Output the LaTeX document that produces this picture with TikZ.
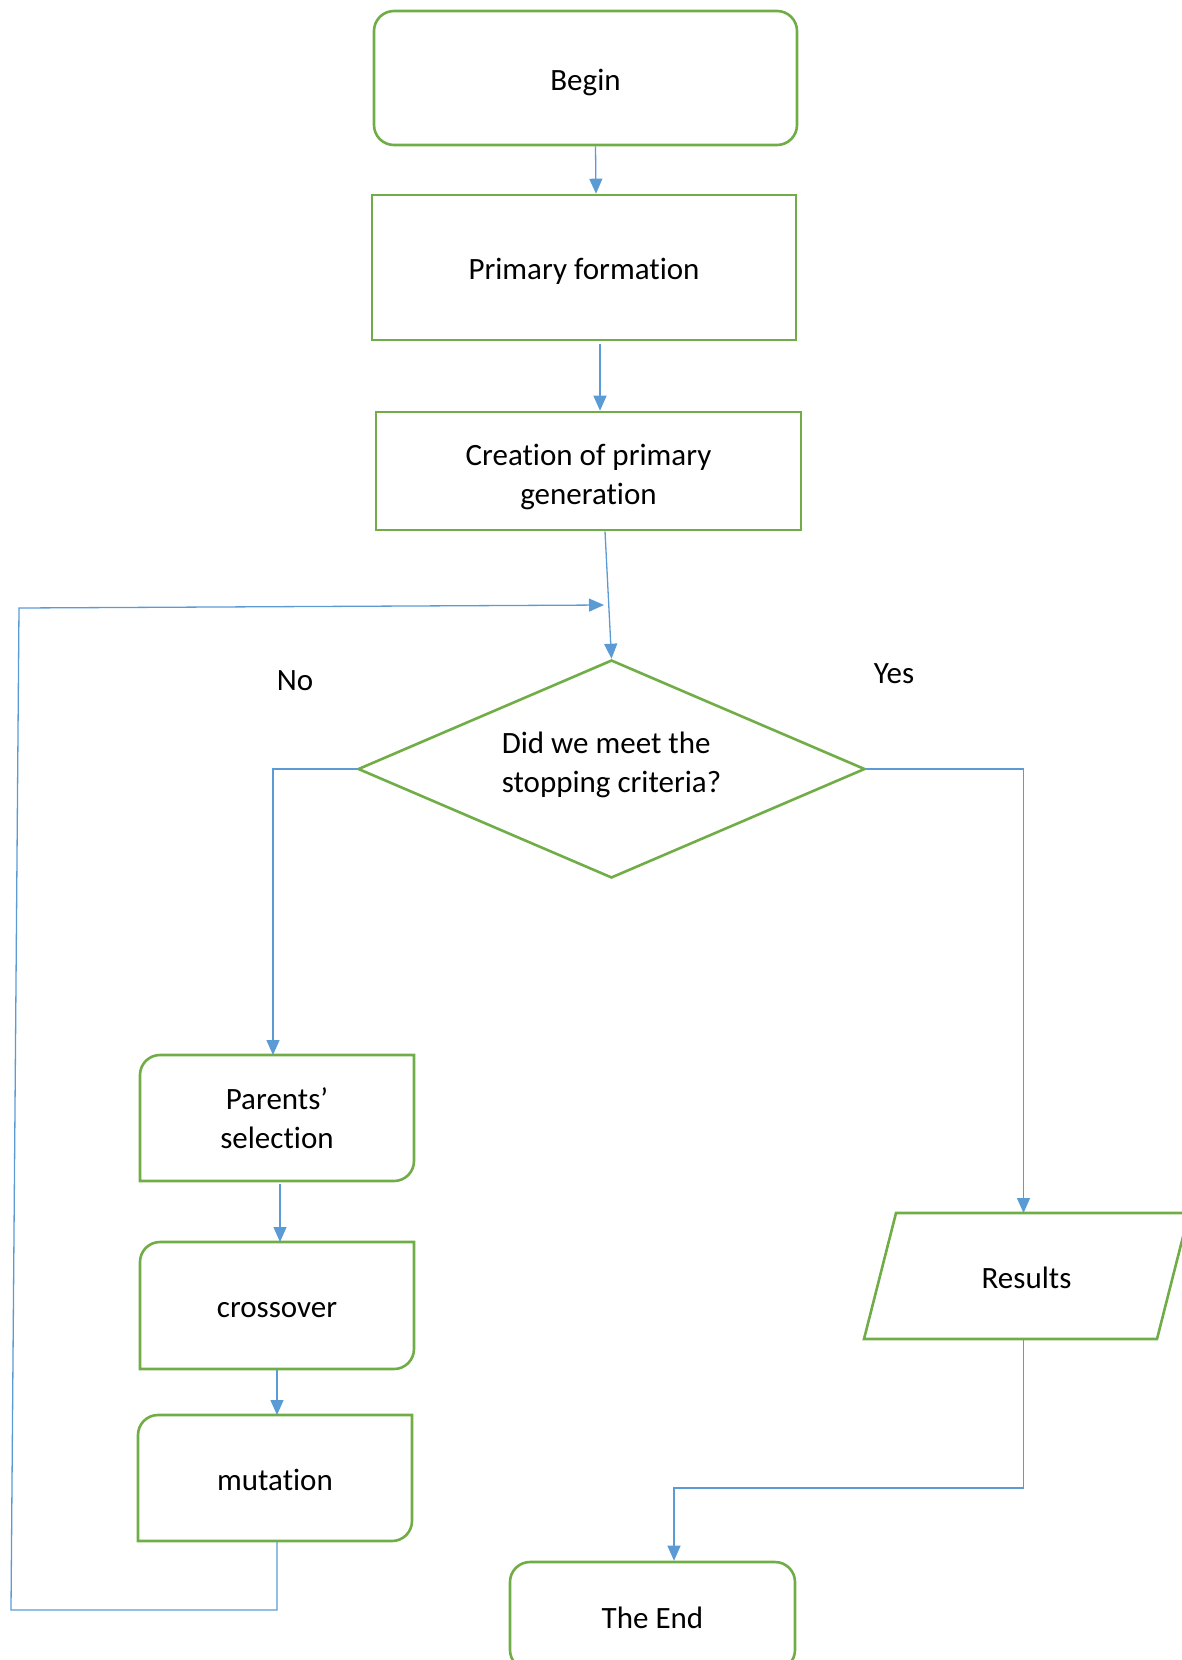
\documentclass[tikz,border=0pt]{standalone}
\usepackage{fontspec}
\setmainfont{Carlito}[Ligatures=NoCommon]
\usetikzlibrary{arrows.meta,shapes.geometric}

\definecolor{boxgreen}{RGB}{112,173,71}
\definecolor{flowblue}{RGB}{91,155,213}

\tikzset{
  box/.style={draw=boxgreen, line width=2.6pt, align=center, inner sep=0pt,
    font=\fontsize{31}{39}\selectfont},
  oneline/.style={text height=32pt, text depth=8pt},
  halfbox/.style={box, draw=none, outer sep=0pt},
  flow/.style={draw=flowblue, line width=1.3pt, -{Triangle[length=15pt,width=13pt]}},
  answer/.style={font=\fontsize{31}{39}\selectfont}
}

% box with only two rounded corners
\newcommand{\halfround}[1]{%
  \draw[boxgreen, line width=2.6pt] (#1.south west) -- ([yshift=-20pt]#1.north west)
    arc[start angle=180, end angle=90, radius=20pt] -- (#1.north east)
    -- ([yshift=20pt]#1.south east) arc[start angle=0, end angle=-90, radius=20pt] -- cycle;}

\begin{document}
\begin{tikzpicture}[x=1pt,y=-1pt]
  \clip (0,0) rectangle (1182,1660);

  \node (begin) [box, oneline, rounded corners=20pt, minimum width=423pt, minimum height=134pt] at (585.5,78) {Begin};
  \node (prim) [box, oneline, minimum width=424pt, minimum height=145pt] at (584,267.5) {Primary formation};
  \node (creat) [box, minimum width=425pt, minimum height=118pt] at (588.5,471) {\rule{0pt}{33pt}Creation of primary\\generation};
  \node (crit) [box, shape=diamond, aspect=2.33, minimum width=507pt, minimum height=218pt, align=left] at (611.5,769) {Did we meet the\\stopping criteria?\rule[-13pt]{0pt}{0pt}};

  \node (sel) [halfbox, minimum width=274pt, minimum height=126pt] at (277,1118) {Parents’\\selection};
  \halfround{sel}
  \node (cross) [halfbox, oneline, minimum width=274pt, minimum height=127pt] at (277,1305.5) {crossover};
  \halfround{cross}
  \node (mut) [halfbox, oneline, minimum width=274pt, minimum height=126pt] at (275,1478) {mutation};
  \halfround{mut}

  \node (res) [halfbox, oneline, minimum width=293pt, minimum height=126pt] at (1026.5,1276) {Results};
  \draw[boxgreen, line width=2.6pt] ([xshift=16pt]res.north west) -- ([xshift=16pt]res.north east)
    -- ([xshift=-16pt]res.south east) -- ([xshift=-16pt]res.south west) -- cycle;
  \node (fin) [box, oneline, rounded corners=20pt, minimum width=285pt, minimum height=108pt] at (652.5,1616) {The End};

  \node (no) [answer] at (295,681) {No};
  \node (yes) [answer] at (894,674) {Yes};

  \draw[flow] ([xshift=10pt]begin.south) -- ([xshift=12pt]prim.north);
  \draw[flow] ([xshift=16pt,yshift=-3pt]prim.south) -- ([xshift=11.5pt]creat.north);
  \draw[flow] ([xshift=16.5pt]creat.south) -- (crit.north);
  \draw[flow] (crit.west) -| ([xshift=-4pt]sel.north);
  \draw[flow] (crit.east) -| ([xshift=-3pt]res.north);
  \draw[flow] ([xshift=3pt,yshift=-3pt]sel.south) -- ([xshift=3pt]cross.north);
  \draw[flow] (cross.south) -- ([xshift=2pt]mut.north);

  \coordinate (loopbot) at (11,1610);
  \coordinate (looptop) at (19,608);
  \coordinate (back) at (604,605);
  \draw[flow] ([xshift=2pt]mut.south) |- (loopbot) -- (looptop) -- (back);

  \draw[flow] ([xshift=-3pt]res.south) -- ++(0,149) -| ([xshift=21.5pt]fin.north);
\end{tikzpicture}
\end{document}
